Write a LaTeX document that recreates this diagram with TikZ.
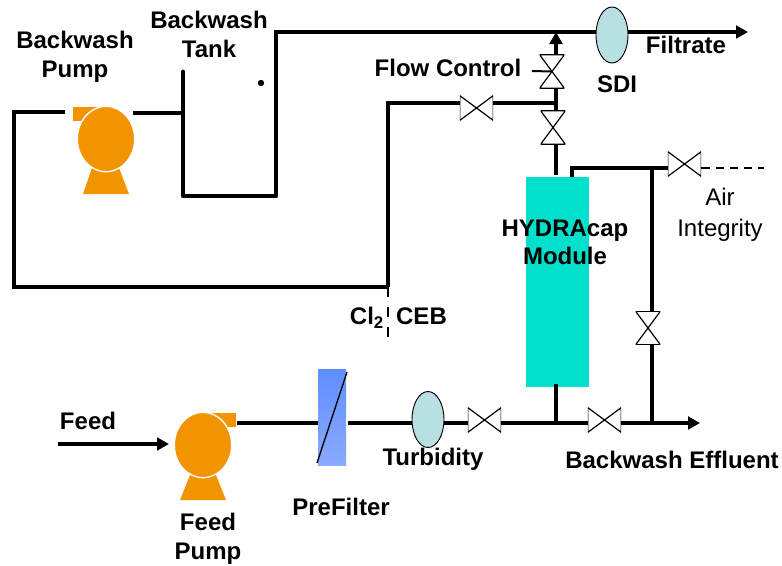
\documentclass[tikz,border=0pt]{standalone}
\usepackage{fontspec}
\setmainfont{Liberation Sans}
\usepackage{tikz}
\usetikzlibrary{shapes.geometric,arrows.meta}

\begin{document}
\begin{tikzpicture}[x=0.75pt,y=-0.75pt,
    pipe/.style={line width=2.6pt,line join=miter},
    thin pipe/.style={line width=1.5pt},
    tank wall/.style={line width=3.6pt,line join=round,line cap=round},
    flow/.style={-{Triangle[length=9pt,width=9.5pt]}},
    label text/.style={font=\fontsize{18}{21.5}\selectfont\bfseries,align=center,inner sep=0pt},
    plain text/.style={font=\fontsize{18}{23}\selectfont,align=center,inner sep=0pt},
    pump body/.style={ellipse,fill=pumporange,draw=white,line width=1pt,minimum width=43pt,minimum height=49pt,inner sep=0pt},
    pump part/.style={fill=pumporange},
    sensor/.style={ellipse,fill=sensorblue,draw=black,line width=0.7pt,minimum width=24pt,minimum height=42pt,inner sep=0pt},
    valve/.style={rectangle,inner sep=0pt,minimum width=25pt,minimum height=18.5pt,
        path picture={\draw[fill=white,line width=0.9pt] (path picture bounding box.north west) -- (path picture bounding box.south east)
            -- (path picture bounding box.north east) -- (path picture bounding box.south west) -- cycle;}},
    vvalve/.style={rectangle,inner sep=0pt,minimum width=18.5pt,minimum height=25pt,
        path picture={\draw[fill=white,line width=0.9pt] (path picture bounding box.north west) -- (path picture bounding box.south east)
            -- (path picture bounding box.south west) -- (path picture bounding box.north east) -- cycle;}}]
    \definecolor{pumporange}{HTML}{F29400}
    \definecolor{sensorblue}{HTML}{B8E0E2}
    \definecolor{moduleteal}{HTML}{00E0CC}
    \definecolor{filtertop}{HTML}{5F8EFF}
    \definecolor{filterbottom}{HTML}{8AAAFF}

    \useasboundingbox (0,0) rectangle (782,565);

    % equipment
    \node[rectangle,fill=moduleteal,minimum width=47.25pt,minimum height=157.5pt,inner sep=0pt] (module) at (557.5,282) {};
    \node[rectangle,top color=filtertop,bottom color=filterbottom,minimum width=21pt,minimum height=72pt,inner sep=0pt] (prefilter) at (332,417) {};

    \fill[pump part] (73,107) rectangle (106,121);
    \fill[pump part] (83,194) -- (129,194) -- (119,168) -- (92,168) -- cycle;
    \node[pump body] (bwpump) at (106,139) {};
    \fill[pump part] (205,413) rectangle (236,427);
    \fill[pump part] (180,500) -- (226,500) -- (216,475) -- (190,475) -- cycle;
    \node[pump body] (feedpump) at (203,445) {};

    % junctions and free ends
    \coordinate (bwleft) at (65,112);
    \coordinate (bwcorner) at (14,112);
    \coordinate (ceb) at (388,287);
    \coordinate (cebend) at (388,340);
    \coordinate (bwright) at (133,113);
    \coordinate (tanktl) at (183,72);
    \coordinate (tankbl) at (183,196);
    \coordinate (tankbr) at (276,196);
    \coordinate (tanktr) at (276,72);
    \coordinate (top) at (276,32);
    \coordinate (filtrate) at (748,32);
    \coordinate (toptee) at (556,32);
    \coordinate (branch) at (556,103);
    \coordinate (modtop) at (556,175);
    \coordinate (stem) at (532,71);
    \coordinate (feedin) at (58,444);
    \coordinate (feedtip) at (169,444);
    \coordinate (feedout) at (237,423);
    \coordinate (filterin) at (348,423);
    \coordinate (modbottom) at (556,384);
    \coordinate (modtee) at (556,423);
    \coordinate (sidetee) at (652,423);
    \coordinate (effluent) at (700,423);
    \coordinate (stub) at (572,177);
    \coordinate (airtee) at (652,168);
    \coordinate (airend) at (764,168);

    % valves and sensors
    \node[sensor] (sdi) at (612,35) {};
    \node[sensor] (turbidity) at (428,419.5) {};
    \node[vvalve] (flowvalve) at (552,71.5) {};
    \node[vvalve] (modvalve) at (553,127.5) {};
    \node[valve] (cebvalve) at (476.5,108) {};
    \node[valve] (airvalve) at (684.5,164) {};
    \node[vvalve] (sidevalve) at (648,328) {};
    \node[valve] (feedvalve) at (484.5,420) {};
    \node[valve] (bwvalve) at (604.5,420) {};

    % backwash loop
    \draw[pipe] (bwleft) -- (bwcorner) |- (ceb);
    \draw[pipe] (bwright) -- (tanktl |- bwright);
    \draw[tank wall] (tanktl) -- (tankbl) -- (tankbr) -- (tanktr);
    \draw[pipe] (tanktr) -- (top) -- (sdi.west |- top);
    \draw[pipe,flow] (sdi.east |- filtrate) -- (filtrate);
    \fill (261,83) circle (2.4pt) coordinate (tankdot);

    % module top
    \draw[pipe] (modtop) -- (modtop |- modvalve.south);
    \draw[pipe] (branch |- modvalve.north) -- (branch);
    \draw[pipe] (branch) -- (branch |- flowvalve.south);
    \draw[pipe,flow] (branch |- flowvalve.north) -- (toptee);
    \draw[thin pipe] (stem) -- (flowvalve.center);
    \draw[pipe] (branch) -- (branch -| cebvalve.east);
    \draw[pipe] (branch -| cebvalve.west) -- (ceb |- branch) -- (ceb);
    \draw[dash pattern=on 7.5pt off 7.5pt,line width=2.2pt] (ceb) -- (cebend);

    % air and side line
    \draw[pipe] (stub) |- (airtee);
    \draw[pipe] (airtee) -- (airtee -| airvalve.west);
    \draw[line width=1.5pt,dash pattern=on 6.2pt off 4.4pt] (airend -| airvalve.east) -- (airend);
    \draw[pipe] (airtee) -- (airtee |- sidevalve.north);
    \draw[pipe] (sidetee |- sidevalve.south) -- (sidetee);

    % feed line
    \draw[pipe,flow] (feedin) -- (feedtip);
    \draw[pipe] (feedout) -- (prefilter.west |- feedout);
    \draw[pipe] (filterin) -- (turbidity.west |- filterin);
    \draw[pipe] (turbidity.east |- filterin) -- (filterin -| feedvalve.west);
    \draw[pipe] (filterin -| feedvalve.east) -- (modtee);
    \draw[pipe] (modtee) -- (modtee -| bwvalve.west);
    \draw[pipe] (modbottom) -- (modtee);
    \draw[pipe,flow] (modtee -| bwvalve.east) -- (effluent);
    \draw[line width=1pt] (347,372) -- (317,463);

    % labels
    \node[label text] (l1) at (75,57) {Backwash\\Pump};
    \node[label text] (l2) at (209,34.5) {Backwash\\Tank};
    \node[label text] (l3) at (448,67.5) {Flow Control};
    \node[label text] (l4) at (686,45) {Filtrate};
    \node[label text] (l5) at (617,84.5) {SDI};
    \node[label text] (l6) at (565,242.5) {HYDRAcap\\Module};
    \node[plain text] (l7) at (720,215) {Air\\Integrity};
    \node[label text] (l8) at (367,318) {Cl\textsubscript{2}};
    \node[label text] (l9) at (421.5,316) {CEB};
    \node[label text] (l10) at (433,459.5) {Turbidity};
    \node[label text] (l11) at (672,459.5) {Backwash Effluent};
    \node[label text] (l12) at (88,421) {Feed};
    \node[label text] (l13) at (208,539) {Feed\\Pump};
    \node[label text] (l14) at (341,507) {PreFilter};
\end{tikzpicture}
\end{document}
